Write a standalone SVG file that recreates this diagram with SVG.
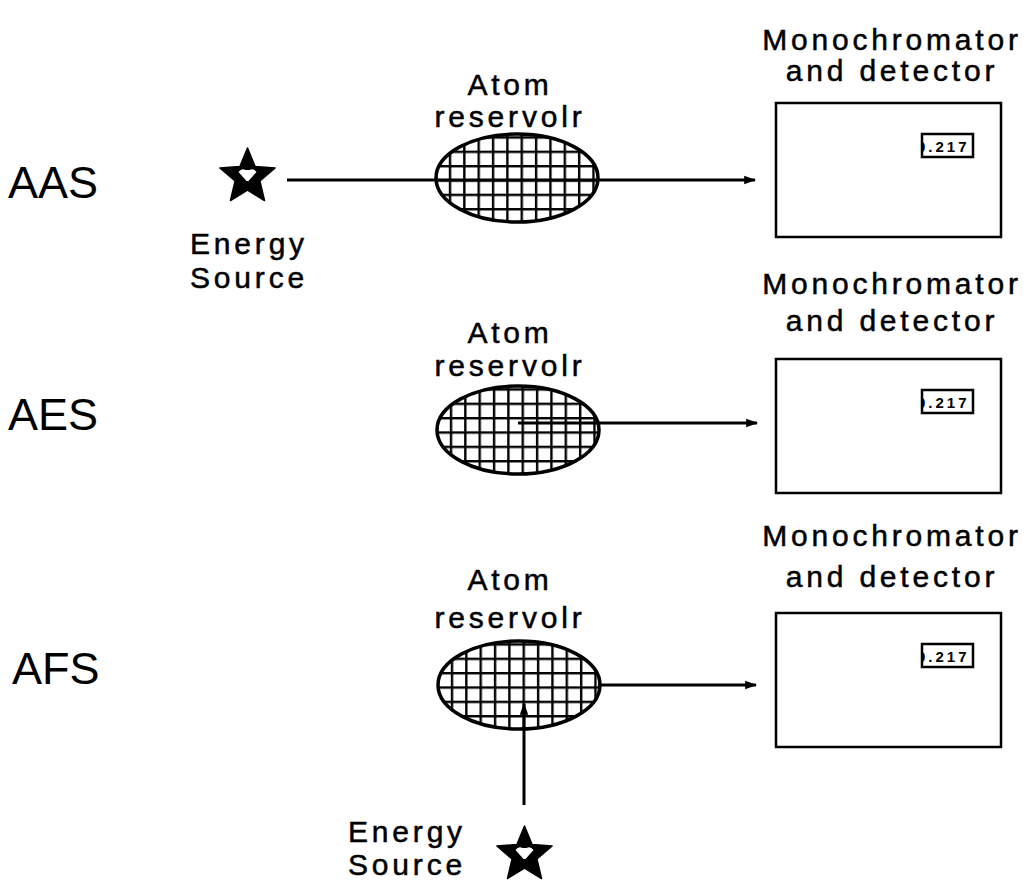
<svg xmlns="http://www.w3.org/2000/svg" width="1028" height="887" viewBox="0 0 1028 887">
  <style>
    .lbl { font-family: "Liberation Sans", Arial, sans-serif; font-size: 30px; letter-spacing: 3.8px; fill: #000; stroke: #000; stroke-width: 0.5; }
    .row { font-family: "Liberation Sans", Arial, sans-serif; font-size: 45px; fill: #000; }
    .ray { stroke: #000; stroke-width: 3; fill: none; }
    .box { fill: #fff; stroke: #000; stroke-width: 2.5; }
    .disp { fill: #fff; stroke: #000; stroke-width: 2.5; }
    .read { font-family: "Liberation Sans", Arial, sans-serif; font-size: 15px; font-weight: bold; letter-spacing: 3px; fill: #000; }
  </style>
  <defs>
    <pattern id="mesh" patternUnits="userSpaceOnUse" x="-68.2" y="-41.7" width="14.35" height="14.35">
      <path d="M1.2 0V14.35M0 1.2H14.35" stroke="#000" stroke-width="2.4"/>
    </pattern>
    <symbol id="reservoir" overflow="visible">
      <ellipse cx="0" cy="0" rx="81" ry="44" fill="#fff"/>
      <ellipse cx="0" cy="0" rx="81" ry="44" fill="url(#mesh)" stroke="#000" stroke-width="3.5"/>
    </symbol>
    <!-- five-point star with a small hollow in the middle -->
    <symbol id="star" overflow="visible">
      <polygon points="0,-29 7.6,-10.4 27.6,-9 12.4,4 17,23.5 0,13 -17,23.5 -12.4,4 -27.6,-9 -7.6,-10.4" fill="#000" stroke="#000" stroke-width="1.5" stroke-linejoin="round"/>
      <path d="M-9,-5 Q-6,-9 -2,-7 L2,-7 Q6,-9 9,-5 L1,4 L-1,4 Z" fill="#fff"/>
    </symbol>
    <symbol id="detector" overflow="visible">
      <rect class="box" x="0" y="0" width="225" height="134"/>
      <clipPath id="dispClip"><rect x="146" y="31" width="51" height="23"/></clipPath>
      <rect class="disp" x="146" y="31" width="51" height="23"/>
      <text class="read" x="141" y="48.5" clip-path="url(#dispClip)">0.217</text>
    </symbol>
    <marker id="head" viewBox="0 0 10 10" refX="9" refY="5" markerWidth="4" markerHeight="4" orient="auto" markerUnits="strokeWidth">
      <path d="M0,1.5 L10,5 L0,8.5 Z" fill="#000"/>
    </marker>
  </defs>

  <!-- Absorption -->
  <g id="row-aas">
    <text class="row" x="8" y="198">AAS</text>
  </g>
  <g id="source-aas">
    <use href="#star" x="247.5" y="177"/>
    <text class="lbl" x="249" y="254" text-anchor="middle">Energy</text>
    <text class="lbl" x="249" y="288" text-anchor="middle">Source</text>
  </g>
  <g id="reservoir-aas">
    <text class="lbl" x="510" y="95" text-anchor="middle">Atom</text>
    <text class="lbl" x="510" y="127" text-anchor="middle">reservolr</text>
    <use href="#reservoir" x="517" y="178"/>
  </g>
  <g id="detector-aas">
    <text class="lbl" x="892" y="50" text-anchor="middle">Monochromator</text>
    <text class="lbl" x="892" y="81" text-anchor="middle">and detector</text>
    <use href="#detector" x="776" y="103"/>
  </g>

  <!-- Emission -->
  <g id="row-aes">
    <text class="row" x="8" y="430">AES</text>
  </g>
  <g id="reservoir-aes">
    <text class="lbl" x="510" y="343" text-anchor="middle">Atom</text>
    <text class="lbl" x="510" y="376" text-anchor="middle">reservolr</text>
    <use href="#reservoir" x="518" y="430"/>
  </g>
  <g id="detector-aes">
    <text class="lbl" x="892" y="294" text-anchor="middle">Monochromator</text>
    <text class="lbl" x="892" y="331" text-anchor="middle">and detector</text>
    <use href="#detector" x="776" y="359"/>
  </g>

  <!-- Fluorescence -->
  <g id="row-afs">
    <text class="row" x="12" y="684">AFS</text>
  </g>
  <g id="reservoir-afs">
    <text class="lbl" x="510" y="590" text-anchor="middle">Atom</text>
    <text class="lbl" x="510" y="628" text-anchor="middle">reservolr</text>
    <use href="#reservoir" x="519" y="685"/>
  </g>
  <g id="detector-afs">
    <text class="lbl" x="892" y="546" text-anchor="middle">Monochromator</text>
    <text class="lbl" x="892" y="587" text-anchor="middle">and detector</text>
    <use href="#detector" x="776" y="613"/>
  </g>
  <g id="source-afs">
    <use href="#star" x="524.5" y="855"/>
    <text class="lbl" x="407" y="842" text-anchor="middle">Energy</text>
    <text class="lbl" x="407" y="875" text-anchor="middle">Source</text>
  </g>

  <!-- Light paths -->
  <g id="connectors">
    <line class="ray" x1="287" y1="180" x2="755" y2="180" marker-end="url(#head)"/>
    <line class="ray" x1="518" y1="423" x2="757" y2="423" marker-end="url(#head)"/>
    <line class="ray" x1="598" y1="685" x2="756" y2="685" marker-end="url(#head)"/>
    <line class="ray" x1="524" y1="805" x2="524" y2="704" marker-end="url(#head)"/>
  </g>
</svg>
